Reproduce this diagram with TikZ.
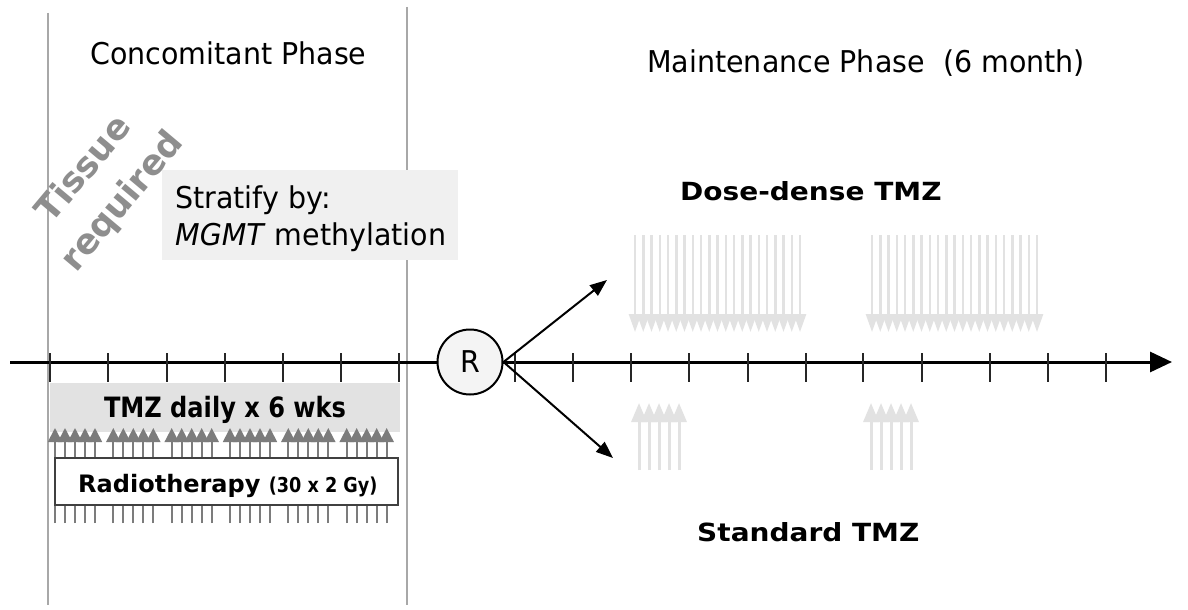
\documentclass[tikz,border=0pt]{standalone}
\usepackage{fontspec}
\setmainfont{DejaVu Sans}[FakeStretch=0.95]
\newfontfamily\bwide{DejaVu Sans}[FakeStretch=1.12]
\newfontfamily\bmid{DejaVu Sans}[FakeStretch=1.0]
\newfontfamily\bnarrow{DejaVu Sans}[FakeStretch=0.86]
\usetikzlibrary{arrows.meta}
\definecolor{vlinegray}{HTML}{A8A8A8}
\definecolor{stratgray}{HTML}{F0F0F0}
\definecolor{tmzgray}{HTML}{E2E2E2}
\definecolor{carrowgray}{HTML}{7C7C7C}
\definecolor{lightarrow}{HTML}{E2E2E2}
\definecolor{tissuegray}{HTML}{8E8E8E}
\definecolor{rfill}{HTML}{F4F4F4}
\tikzset{
  vline/.style={draw=vlinegray, line width=1.2pt},
  axisline/.style={line width=3pt, -{Triangle[length=22pt,width=20pt]}},
  tickline/.style={line width=2pt, draw=black!85},
  carrow/.style={draw=carrowgray, line width=1.8pt, -{Triangle[length=14pt,width=14pt]}, color=carrowgray},
  ddarrow/.style={draw=lightarrow, line width=2.5pt, -{Triangle[length=18pt,width=12pt]}, color=lightarrow},
  stdarrow/.style={draw=lightarrow, line width=3pt, -{Triangle[length=19pt,width=15pt]}, color=lightarrow},
  rarrow/.style={line width=2pt, -{Triangle[length=17pt,width=13pt]}},
  regtext/.style={inner sep=0pt, anchor=base west, font=\fontsize{30}{36}\selectfont},
}
\begin{document}
\begin{tikzpicture}[x=1pt,y=-1pt]
\useasboundingbox[fill=white] (0,0) rectangle (1188,610);
% phase separators
\draw[vline] (48,13) -- (48,605);
\draw[vline] (407,7) -- (407,605);
% headings
\node[regtext] (conc) at (90,65) {Concomitant Phase};
\node[regtext] (maint) at (647,73) {Maintenance Phase\ \ (6 month)};
% stratify box
\fill[stratgray] (162,170) rectangle (458,260);
\node[regtext] (strat1) at (175,208) {Stratify by:};
\node[regtext] (strat2) at (175,245) {\textit{MGMT} methylation};
% tissue required
\node[inner sep=0pt, rotate=50, align=center, text=tissuegray, font=\bmid\bfseries\fontsize{35}{50}\selectfont] (tissue) at (104,186) {Tissue\\required};
% dose-dense arrows
\foreach \g in {635,872}{
  \foreach \i in {0,...,20}{
    \draw[ddarrow] (\g+8.25*\i,235) -- (\g+8.25*\i,332);
  }
}
% standard arrows
\foreach \g in {639,871}{
  \foreach \i in {0,...,4}{
    \draw[stdarrow] (\g+10*\i,470) -- (\g+10*\i,403);
  }
}
% TMZ daily box
\fill[tmzgray] (50,383) rectangle (400,432);
\node[inner sep=0pt, anchor=base, font=\bnarrow\bfseries\fontsize{28}{34}\selectfont] (tmz) at (225,417) {TMZ daily x 6 wks};
% concomitant arrows
\foreach \t in {50,108.3,166.7,225,283.3,341.7}{
  \foreach \i in {0,...,4}{
    \draw[carrow] (\t+5+10*\i,523) -- (\t+5+10*\i,428);
  }
}
% radiotherapy box
\node[draw=black!75, line width=1.5pt, fill=white, minimum width=343pt, minimum height=47pt, inner sep=0pt] (radio) at (226.5,481.5) {};
\node[inner sep=0pt, anchor=base west, font=\bmid\bfseries\fontsize{24}{28}\selectfont] (radiotxt) at (78,492) {Radiotherapy {\bnarrow\fontsize{20.5}{24}\selectfont(30 x 2 Gy)}};
% axis
\coordinate (axstart) at (10,362);
\coordinate (axend) at (1172,362);
\draw[axisline] (axstart) -- (axend);
\foreach \x in {50,108,167,225,283,341,399,515,573,631,689,748,806,863,922,990,1048,1106}{
  \draw[tickline] (\x,353) -- (\x,382);
}
% randomisation
\node[circle, draw, line width=2pt, fill=rfill, minimum size=65pt, inner sep=0pt, font=\fontsize{30}{36}\selectfont] (R) at (470,362) {R};
\coordinate (up) at (607,280);
\coordinate (down) at (613,458);
\draw[rarrow] (R.east) -- (up);
\draw[rarrow] (R.east) -- (down);
% arm labels
\node[inner sep=0pt, anchor=base west, font=\bwide\bfseries\fontsize{25}{30}\selectfont] (dd) at (680,200) {Dose-dense TMZ};
\node[inner sep=0pt, anchor=base west, font=\bwide\bfseries\fontsize{25}{30}\selectfont] (std) at (697,541) {Standard TMZ};
\end{tikzpicture}
\end{document}
